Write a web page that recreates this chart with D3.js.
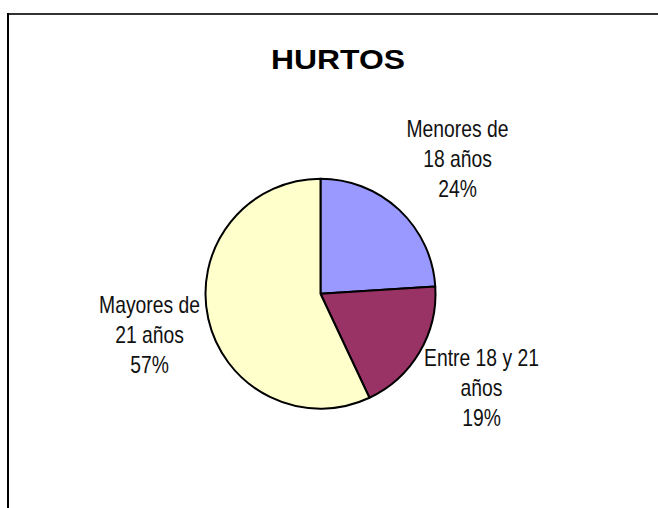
<!DOCTYPE html>
<html>
<head>
<meta charset="utf-8">
<script src="https://cdn.jsdelivr.net/npm/d3@7"></script>
<style>
  html, body { margin: 0; padding: 0; background: #fff; }
  svg { display: block; }
</style>
</head>
<body>
<svg id="chart" width="658" height="508"></svg>
<script>
// Distribución de hurtos por grupo de edad (porcentajes)
const categories = ["Menores de 18 años", "Entre 18 y 21 años", "Mayores de 21 años"];
const labelLines = [["Menores de", "18 años"], ["Entre 18 y 21", "años"], ["Mayores de", "21 años"]];
const values = [24, 19, 57];
const colors = ["#9999FF", "#993366", "#FFFFCC"];
const title = "HURTOS";

const W = 658, H = 508;
const svg = d3.select("#chart");

// Chart frame (top and left edges)
svg.append("line").attr("x1", 8).attr("x2", W).attr("y1", 14).attr("y2", 14)
  .attr("stroke", "#333").attr("stroke-width", 2);
svg.append("line").attr("x1", 8).attr("x2", 8).attr("y1", 13).attr("y2", H)
  .attr("stroke", "#000").attr("stroke-width", 2);

// Title (wide bold face)
svg.append("g")
  .attr("transform", "translate(338,69) scale(1.18,1)")
  .append("text")
  .attr("text-anchor", "middle")
  .attr("font-family", "Liberation Sans, Arial, sans-serif")
  .attr("font-weight", "bold")
  .attr("font-size", 27)
  .text(title);

const cx = 320.5, cy = 293.7, r = 115;
const data = categories.map((c, i) => ({ category: c, value: values[i], lines: labelLines[i], color: colors[i] }));
const pie = d3.pie().sort(null).value(d => d.value).startAngle(0).endAngle(2 * Math.PI);
const arc = d3.arc().innerRadius(0).outerRadius(r);
const arcs = pie(data);
const total = d3.sum(values);

const g = svg.append("g").attr("transform", `translate(${cx},${cy})`);
g.selectAll("path.slice")
  .data(arcs)
  .join("path")
  .attr("class", "slice")
  .attr("d", arc)
  .attr("fill", d => d.data.color)
  .attr("stroke", "#000")
  .attr("stroke-width", 2)
  .attr("stroke-linejoin", "round");

// Label placement: centres relative to the pie centre
const labelOffset = {
  "Menores de 18 años": [137, -135],
  "Entre 18 y 21 años": [161, 94],
  "Mayores de 21 años": [-171, 41]
};
const lineH = 30.5;
g.selectAll("g.lbl")
  .data(arcs)
  .join("g")
  .attr("class", "lbl")
  .attr("transform", d => {
    const [ox, oy] = labelOffset[d.data.category];
    return `translate(${ox},${oy}) scale(0.84,1)`;
  })
  .each(function(d) {
    const lines = d.data.lines.concat([Math.round(d.data.value / total * 100) + "%"]);
    const t = d3.select(this).append("text")
      .attr("text-anchor", "middle")
      .attr("font-family", "Liberation Sans, Arial, sans-serif")
      .attr("font-size", 23)
      .attr("fill", "#111");
    lines.forEach((s, i) => {
      t.append("tspan").attr("x", 0).attr("y", (i - 1) * lineH + 8.3).text(s);
    });
  });
</script>
</body>
</html>
